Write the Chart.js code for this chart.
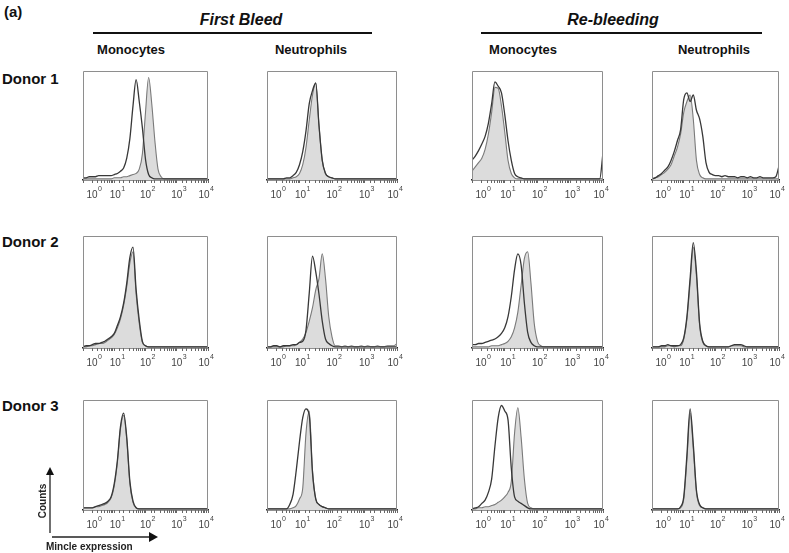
<!DOCTYPE html>
<html>
<head>
<meta charset="utf-8">
<script src="https://cdn.jsdelivr.net/npm/chart.js@4.4.0/dist/chart.umd.min.js"></script>
<style>
  html, body { margin: 0; padding: 0; background: #fff; }
  #fig { position: relative; width: 789px; height: 553px; overflow: hidden; font-family: "Liberation Sans", Arial, sans-serif; color: #111; }
  .txt { position: absolute; white-space: nowrap; font-weight: bold; }
  .rule { position: absolute; height: 2px; background: #111; }
  .panel { position: absolute; }
</style>
</head>
<body>
<div id="fig"></div>
<script>
// histogram bins, log10 of Mincle intensity (0.1 decade steps)
const binExp = [0.0,0.1,0.2,0.3,0.4,0.5,0.6,0.7,0.8,0.9,
                1.0,1.1,1.2,1.3,1.4,1.5,1.6,1.7,1.8,1.9,
                2.0,2.1,2.2,2.3,2.4,2.5,2.6,2.7,2.8,2.9,
                3.0,3.1,3.2,3.3,3.4,3.5,3.6,3.7,3.8,3.9,
                4.0];
const decadeExp = [0, 1, 2, 3, 4];

const bleeds = ['First Bleed', 'Re-bleeding'];
const cellTypes = ['Monocytes', 'Neutrophils'];
const donors = ['Donor 1', 'Donor 2', 'Donor 3'];

// counts, % of panel height (open = outline only, fill = shaded)
const d1FirstMonoOpen = [2,2,3,3,3,4,4,4,4,4, 5,6,8,11,20,38,68,92,72,48, 19,5,2,1,1,1,1,1,1,1, 1,1,1,1,1,1,1,1,1,1, 1];
const d1FirstMonoFill = [1,1,1,1,1,1,1,1,1,1, 2,2,2,3,3,4,5,6,10,24, 62,94,70,36,10,3,1,1,1,1, 1,1,1,1,1,1,1,1,1,1, 1];
const d1FirstNeutOpen = [1,1,1,1,1,1,2,2,4,7, 14,26,45,70,82,89,50,18,6,3, 2,1,1,1,1,1,1,1,1,1, 1,1,1,1,1,1,1,1,1,1, 1];
const d1FirstNeutFill = [1,1,1,1,1,1,1,1,2,3, 6,14,30,55,78,89,50,18,6,3, 2,1,1,1,1,1,1,1,1,1, 1,1,1,1,1,1,1,1,1,1, 1];
const d1ReMonoOpen = [18,22,27,33,40,52,70,90,86,80, 60,36,18,6,3,2,1,1,1,1, 1,1,1,1,1,1,1,1,1,1, 1,1,1,1,1,1,1,1,1,1, 25];
const d1ReMonoFill = [8,12,16,20,28,42,62,85,84,68, 44,18,6,2,1,1,1,1,1,1, 1,1,1,1,1,1,1,1,1,1, 1,1,1,1,1,1,1,1,1,1, 1];
const d1ReNeutOpen = [1,2,4,6,9,12,18,26,36,46, 74,80,72,78,64,56,40,16,7,5, 4,4,3,4,3,3,3,2,3,3, 2,3,2,2,3,2,2,2,2,3, 13];
const d1ReNeutFill = [1,2,3,5,7,10,14,22,30,42, 62,72,78,56,18,5,2,1,1,1, 1,1,1,1,1,1,1,1,1,1, 1,1,1,1,1,1,1,1,1,1, 1];

const d2FirstMonoOpen = [1,2,2,3,4,4,5,6,8,10, 13,20,28,40,58,81,90,52,25,6, 2,1,1,1,1,1,1,1,1,1, 1,1,1,1,1,1,1,1,1,1, 1];
const d2FirstMonoFill = [1,1,2,2,3,4,4,5,7,9, 12,18,26,38,55,76,86,48,22,5, 2,1,1,1,1,1,1,1,1,1, 1,1,1,1,1,1,1,1,1,1, 1];
const d2FirstNeutOpen = [1,1,2,2,1,2,2,2,3,3, 5,6,16,49,82,68,48,24,8,4, 2,1,1,1,1,1,1,1,1,1, 1,1,1,1,1,1,1,1,1,1, 1];
const d2FirstNeutFill = [1,1,1,1,1,1,2,2,2,3, 5,8,14,24,36,52,62,84,62,28, 10,2,2,1,2,1,2,1,1,2, 1,2,1,1,2,1,1,2,2,2, 4];
const d2ReMonoOpen = [3,3,4,4,5,6,7,8,10,13, 18,28,46,70,84,74,40,14,5,2, 1,1,1,1,1,1,1,1,1,1, 1,1,1,1,1,1,1,1,1,1, 1];
const d2ReMonoFill = [1,1,1,1,1,1,2,2,2,3, 4,6,10,18,32,56,80,86,58,22, 6,2,1,1,1,1,1,1,1,1, 1,1,1,1,1,1,1,1,1,1, 1];
const d2ReNeutOpen = [1,1,1,2,2,3,2,2,2,3, 9,28,62,94,68,22,6,2,1,1, 1,1,1,1,1,2,3,3,3,2, 1,1,1,1,1,1,1,1,1,1, 1];
const d2ReNeutFill = [1,1,1,1,1,2,2,1,2,2, 8,26,58,90,64,20,5,2,1,1, 1,1,1,1,1,2,2,2,2,1, 1,1,1,1,1,1,1,1,1,1, 1];

const d3FirstMonoOpen = [2,2,2,2,3,4,5,6,8,12, 24,45,76,88,66,26,8,2,1,1, 1,1,1,1,1,1,1,1,1,1, 1,1,1,1,1,1,1,1,1,1, 1];
const d3FirstMonoFill = [2,2,2,2,3,3,4,5,7,11, 22,43,74,86,64,24,7,2,1,1, 1,1,1,1,1,1,1,1,1,1, 1,1,1,1,1,1,1,1,1,1, 1];
const d3FirstNeutOpen = [1,1,1,1,1,1,1,5,14,36, 62,84,92,86,34,10,5,3,2,1, 1,1,1,1,1,1,1,1,1,1, 1,1,1,1,1,1,1,1,1,1, 1];
const d3FirstNeutFill = [1,1,1,1,1,1,1,1,2,4, 10,20,70,90,36,10,5,3,2,1, 1,1,1,1,1,1,1,1,1,1, 1,1,1,1,1,1,1,1,1,1, 1];
const d3ReMonoOpen = [1,2,3,6,9,16,28,58,84,95, 90,82,38,12,8,6,4,2,1,1, 1,1,1,1,1,1,1,1,1,1, 1,1,1,1,1,1,1,1,1,1, 1];
const d3ReMonoFill = [1,1,2,2,3,3,4,5,7,9, 12,16,26,70,93,66,28,6,2,1, 1,1,1,1,1,1,1,1,1,1, 1,1,1,1,1,1,1,1,1,1, 1];
const d3ReNeutOpen = [1,1,1,1,1,1,1,1,1,3, 12,50,92,60,18,5,2,1,1,1, 1,1,1,1,1,1,1,1,1,1, 1,1,1,1,1,1,1,1,1,1, 1];
const d3ReNeutFill = [1,1,1,1,1,1,1,1,1,2, 10,46,88,56,16,4,2,1,1,1, 1,1,1,1,1,1,1,1,1,1, 1,1,1,1,1,1,1,1,1,1, 1];

const grid = [
  [[d1FirstMonoOpen, d1FirstMonoFill], [d1FirstNeutOpen, d1FirstNeutFill], [d1ReMonoOpen, d1ReMonoFill], [d1ReNeutOpen, d1ReNeutFill]],
  [[d2FirstMonoOpen, d2FirstMonoFill], [d2FirstNeutOpen, d2FirstNeutFill], [d2ReMonoOpen, d2ReMonoFill], [d2ReNeutOpen, d2ReNeutFill]],
  [[d3FirstMonoOpen, d3FirstMonoFill], [d3FirstNeutOpen, d3FirstNeutFill], [d3ReMonoOpen, d3ReMonoFill], [d3ReNeutOpen, d3ReNeutFill]]
];

// panel boxes: [left, right] per column, [top, axis] per row
const colX = [[83, 208], [267, 397], [472, 603], [652, 779]];
const rowY = [[71, 180], [236, 348], [400, 510]];
const PAD = 12, AXIS_H = 24, TOP_PAD = 4;
const labelShift = [11, 3, 2, 2, -2];

const fig = document.getElementById('fig');

function addText(text, left, top, css) {
  const d = document.createElement('div');
  d.className = 'txt';
  d.textContent = text;
  d.style.left = left + 'px';
  d.style.top = top + 'px';
  Object.assign(d.style, css || {});
  fig.appendChild(d);
  return d;
}

function addCentered(text, cx, top, css) {
  const d = addText(text, cx - 100, top, css);
  d.style.width = '200px';
  d.style.textAlign = 'center';
  return d;
}

// frame + decade labels
const boxPlugin = {
  id: 'boxPlugin',
  afterDraw(chart) {
    const { ctx, chartArea: a } = chart;
    const xs = chart.scales.x;
    ctx.save();
    ctx.strokeStyle = '#8e8e8e';
    ctx.lineWidth = 1;
    ctx.beginPath();
    ctx.moveTo(a.left + 0.5, a.bottom);
    ctx.lineTo(a.left + 0.5, a.top + 0.5);
    ctx.lineTo(a.right - 0.5, a.top + 0.5);
    ctx.lineTo(a.right - 0.5, a.bottom);
    ctx.stroke();

    ctx.fillStyle = '#444';
    ctx.textBaseline = 'alphabetic';
    ctx.textAlign = 'left';
    const baseFont = '10px "Liberation Sans", Arial, sans-serif';
    const supFont = '7px "Liberation Sans", Arial, sans-serif';
    decadeExp.forEach((e, i) => {
      const px = xs.getPixelForValue(Math.pow(10, e)) + labelShift[i];
      ctx.font = baseFont;
      const wBase = ctx.measureText('10').width;
      ctx.font = supFont;
      const wSup = ctx.measureText(String(e)).width;
      const x0 = px - (wBase + wSup) / 2;
      ctx.font = baseFont;
      ctx.fillText('10', x0, a.bottom + 18);
      ctx.font = supFont;
      ctx.fillText(String(e), x0 + wBase + 0.5, a.bottom + 11);
    });
    ctx.restore();
  }
};

function makePanel(r, c) {
  const [left, right] = colX[c];
  const [top, axis] = rowY[r];
  const [openVals, fillVals] = grid[r][c];
  const w = right - left + PAD * 2;
  const h = axis - top + TOP_PAD + AXIS_H;

  const holder = document.createElement('div');
  holder.className = 'panel';
  holder.style.left = (left - PAD) + 'px';
  holder.style.top = (top - TOP_PAD) + 'px';
  const cv = document.createElement('canvas');
  cv.width = w; cv.height = h;
  cv.style.width = w + 'px'; cv.style.height = h + 'px';
  holder.appendChild(cv);
  fig.appendChild(holder);

  const xVals = binExp.map(e => Math.pow(10, e));
  const pts = vals => vals.map((v, i) => ({ x: xVals[i], y: v }));

  new Chart(cv.getContext('2d'), {
    type: 'line',
    data: {
      datasets: [
        { data: pts(openVals), borderColor: '#383838', borderWidth: 1.3, fill: false,
          pointRadius: 0, cubicInterpolationMode: 'monotone' },
        { data: pts(fillVals), borderColor: '#7a7a7a', borderWidth: 1.1, backgroundColor: '#dcdcdc',
          fill: 'origin', pointRadius: 0, cubicInterpolationMode: 'monotone' }
      ]
    },
    options: {
      responsive: false,
      animation: false,
      devicePixelRatio: 1,
      layout: { padding: { left: PAD, right: PAD, top: TOP_PAD, bottom: 0 } },
      plugins: { legend: { display: false }, tooltip: { enabled: false } },
      scales: {
        x: {
          type: 'logarithmic', min: 1, max: 10000,
          afterFit(s) { s.height = AXIS_H; },
          grid: { drawOnChartArea: false, drawTicks: true, tickLength: 3, color: '#666', lineWidth: 1 },
          border: { display: true, color: '#222', width: 1.5 },
          ticks: { autoSkip: false, maxRotation: 0, callback: () => '', font: { size: 1 } }
        },
        y: { display: false, min: 0, max: 100 }
      }
    },
    plugins: [boxPlugin]
  });
}

// headings
addText('(a)', 4, 3, { fontSize: '15px' });
addCentered(bleeds[0], 241, 11, { fontSize: '16px', fontStyle: 'italic' });
addCentered(bleeds[1], 613, 11, { fontSize: '16px', fontStyle: 'italic' });
[[93, 279], [481, 281]].forEach(([l, wd]) => {
  const d = document.createElement('div');
  d.className = 'rule';
  d.style.left = l + 'px'; d.style.top = '32px'; d.style.width = wd + 'px';
  fig.appendChild(d);
});
[131, 311, 523, 714].forEach((cx, i) => addCentered(cellTypes[i % 2], cx, 42, { fontSize: '13px' }));
[70, 233, 397].forEach((t, i) => addText(donors[i], 2, t, { fontSize: '15px' }));

for (let r = 0; r < 3; r++) for (let c = 0; c < 4; c++) makePanel(r, c);

// axis key, bottom left
const svgNS = 'http://www.w3.org/2000/svg';
const key = document.createElementNS(svgNS, 'svg');
key.setAttribute('width', '789'); key.setAttribute('height', '553');
key.style.position = 'absolute'; key.style.left = '0'; key.style.top = '0';
key.innerHTML =
  '<line x1="50" y1="474" x2="50" y2="533" stroke="#222" stroke-width="1.3"/>' +
  '<polygon points="46,475 54,475 50,467" fill="#111"/>' +
  '<line x1="52" y1="537" x2="150" y2="537" stroke="#222" stroke-width="1.3"/>' +
  '<polygon points="149,532 149,542 158,537" fill="#111"/>' +
  '<text x="43" y="501" transform="rotate(-90 43 501)" text-anchor="middle" dominant-baseline="middle" ' +
  'font-family="Liberation Sans, Arial, sans-serif" font-size="10" font-weight="bold" fill="#222">Counts</text>' +
  '<text x="46" y="550" font-family="Liberation Sans, Arial, sans-serif" font-size="10" font-weight="bold" fill="#222">Mincle expression</text>';
fig.appendChild(key);
</script>
</body>
</html>
